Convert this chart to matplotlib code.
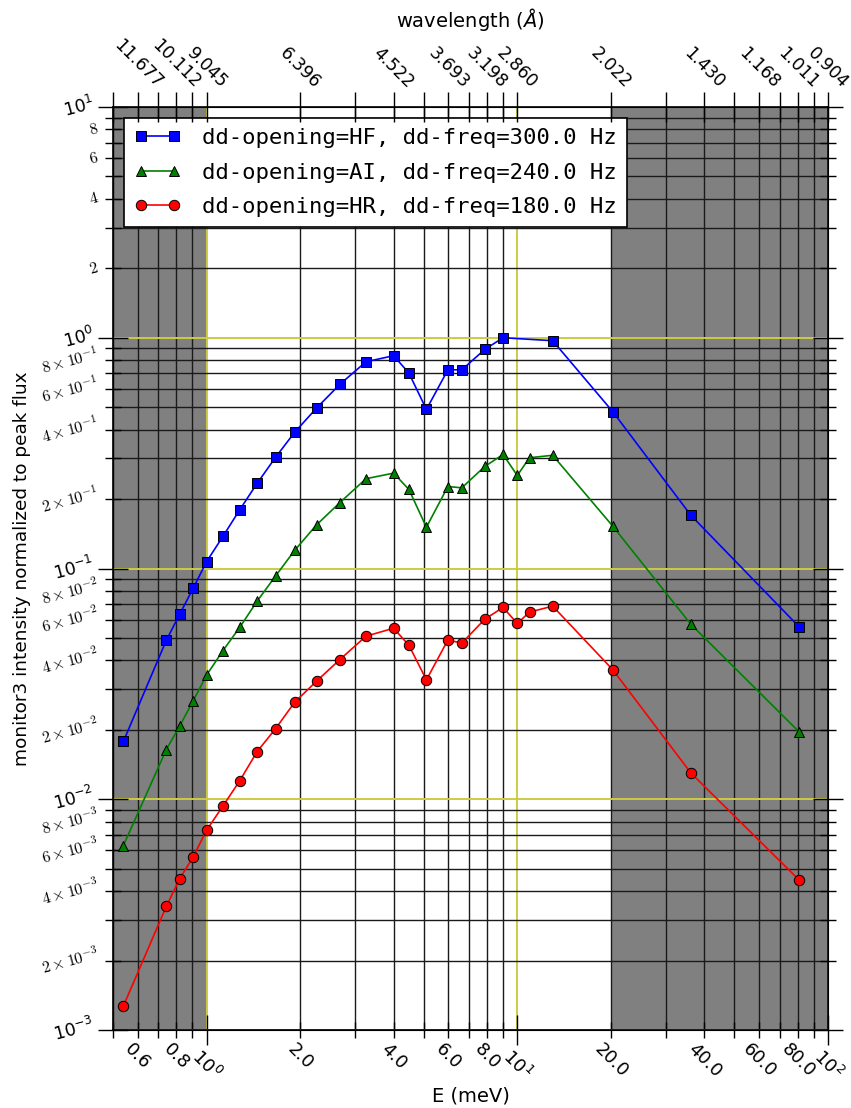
import matplotlib
matplotlib.use('Agg')
import matplotlib.pyplot as plt
import numpy as np
from matplotlib.ticker import FixedLocator, FixedFormatter, LogLocator, NullFormatter, FuncFormatter

# incident energies (meV) of the scan points
energy = [0.54, 0.742, 0.82, 0.906, 1.0, 1.13, 1.28, 1.455, 1.667, 1.92, 2.26, 2.685,
          3.26, 4.0, 4.48, 5.1, 5.98, 6.63, 7.86, 9.0, 10.0, 10.95, 13.0, 20.3, 36.2, 80.7]

# HF setting was not measured at 10.0 and 10.95 meV
energy_hf = [0.54, 0.742, 0.82, 0.906, 1.0, 1.13, 1.28, 1.455, 1.667, 1.92, 2.26, 2.685,
             3.26, 4.0, 4.48, 5.1, 5.98, 6.63, 7.86, 9.0, 13.0, 20.3, 36.2, 80.7]
flux_hf = [0.0178, 0.0488, 0.0634, 0.0822, 0.107, 0.138, 0.180, 0.234, 0.303, 0.389, 0.496, 0.628,
           0.787, 0.836, 0.703, 0.489, 0.726, 0.726, 0.890, 1.0, 0.971, 0.478, 0.170, 0.0559]
flux_ai = [0.0063, 0.0164, 0.0208, 0.0267, 0.0345, 0.0441, 0.0557, 0.0722, 0.0927, 0.1197, 0.1546, 0.193,
           0.245, 0.259, 0.220, 0.151, 0.2266, 0.2237, 0.2768, 0.312, 0.253, 0.302, 0.3095, 0.1525, 0.0573, 0.0196]
flux_hr = [0.00127, 0.00343, 0.00453, 0.00563, 0.00734, 0.00936, 0.01205, 0.0161, 0.0202, 0.0263, 0.0325, 0.0403,
           0.0509, 0.0551, 0.0465, 0.0329, 0.0490, 0.0475, 0.0603, 0.0678, 0.0578, 0.0647, 0.0687, 0.0364, 0.0130, 0.00447]

labels = ['dd-opening=HF, dd-freq=300.0 Hz',
          'dd-opening=AI, dd-freq=240.0 Hz',
          'dd-opening=HR, dd-freq=180.0 Hz']

# wavelength axis on top
wl_energy = [0.6, 0.8, 1, 2, 4, 6, 8, 10, 20, 40, 60, 80, 100]
wl_labels = ['11.677', '10.112', '9.045', '6.396', '4.522', '3.693', '3.198', '2.860',
             '2.022', '1.430', '1.168', '1.011', '0.904']

# energy ranges shaded grey
shaded = [(0.5, 1.0), (20.0, 100.0)]

plt.rcParams['mathtext.fontset'] = 'cm'

fig = plt.figure(figsize=(8.51, 11.08), dpi=100)
ax = fig.add_axes([113/851, 1-1030/1108, 715/851, 923/1108])

for lo, hi in shaded:
    ax.axvspan(lo, hi, color='gray', lw=0, zorder=0)

ax.plot(energy_hf, flux_hf, 'bs-', ms=7.5, mec='k', mew=0.7, lw=1.2, label=labels[0])
ax.plot(energy, flux_ai, '^-', color=(0, 0.5, 0), ms=7.5, mec='k', mew=0.7, lw=1.2, label=labels[1])
ax.plot(energy, flux_hr, 'ro-', ms=7.5, mec='k', mew=0.7, lw=1.2, label=labels[2])

ax.set_xscale('log')
ax.set_yscale('log')
ax.set_xlim(0.5, 100)
ax.set_ylim(1e-3, 10)

# x ticks: decades as 10^n, even multiples printed as floats
ax.xaxis.set_major_locator(LogLocator(base=10, subs=(1.0,)))
ax.xaxis.set_minor_locator(LogLocator(base=10, subs=np.arange(2, 10)))
ax.xaxis.set_major_formatter(FuncFormatter(lambda v, p: r'$10^{%d}$' % round(np.log10(v))))


def even_float(v, p):
    m = v / 10 ** np.floor(np.log10(v) + 1e-9)
    return '%.1f' % v if round(m) % 2 == 0 else ''


ax.xaxis.set_minor_formatter(FuncFormatter(even_float))

# y ticks
ax.yaxis.set_major_locator(FixedLocator([1e-3, 1e-2, 1e-1, 1, 10]))
ax.yaxis.set_minor_locator(LogLocator(base=10, subs=np.arange(2, 10)))
ax.yaxis.set_major_formatter(FuncFormatter(lambda v, p: r'$10^{%d}$' % round(np.log10(v))))


def even_sci(v, p):
    e = int(np.floor(np.log10(v) + 1e-9))
    m = int(round(v / 10 ** e))
    if m % 2:
        return ''
    if e == 0:
        return r'$%d$' % m
    return r'$%d\times10^{%d}$' % (m, e)


ax.yaxis.set_minor_formatter(FuncFormatter(even_sci))

ax.tick_params(which='major', direction='inout', length=22, width=1, top=False, right=True)
ax.tick_params(which='minor', direction='inout', length=12, width=1, top=False, right=True)
ax.tick_params(axis='x', which='both', labelsize=13, labelrotation=-45, pad=1)
ax.tick_params(axis='y', which='major', labelsize=12.5, labelrotation=15, pad=1)
ax.tick_params(axis='y', which='minor', labelsize=11.5, labelrotation=15, pad=3)

for t in ax.yaxis.get_major_ticks() + ax.xaxis.get_major_ticks():
    t.label1.set_math_fontfamily('dejavusans')
for t in ax.yaxis.get_major_ticks() + ax.yaxis.get_minor_ticks():
    t.label1.set_va('center')

ax.grid(which='minor', color='0.1', lw=1.0)
ax.grid(which='major', color='#cccc44', lw=1.4)

for s in ax.spines.values():
    s.set_linewidth(1.2)

ax.set_xlabel('E (meV)', fontsize=14)
ax.xaxis.set_label_coords(0.5, -(1086 - 1030) / 923)
ax.set_ylabel('monitor3 intensity normalized to peak flux', fontsize=13.3)
ax.yaxis.set_label_coords(-(113 - 31) / 715, 0.5)

leg = ax.legend(loc='upper left', numpoints=2, prop={'family': 'DejaVu Sans Mono', 'size': 16},
                fancybox=False, framealpha=1, edgecolor='k', borderaxespad=0.5,
                labelspacing=0.65, borderpad=0.45, handlelength=2.1, handletextpad=0.95)
leg.get_frame().set_linewidth(1.2)

# top axis in wavelength
axt = ax.twiny()
axt.set_xscale('log')
axt.set_xlim(ax.get_xlim())
axt.xaxis.set_major_locator(FixedLocator(wl_energy))
axt.xaxis.set_major_formatter(FixedFormatter(wl_labels))
axt.xaxis.set_minor_locator(LogLocator(base=10, subs=np.arange(2, 10)))
axt.xaxis.set_minor_formatter(NullFormatter())
axt.tick_params(which='both', direction='inout', length=22, width=1, labelsize=12.5,
                labelrotation=-45, pad=0)
axt.set_xlabel(r'wavelength ($\AA$)', fontsize=14)
axt.xaxis.label.set_math_fontfamily('dejavusans')
axt.xaxis.set_label_coords(0.5, (1030 - 27) / 923)

fig.savefig('out.png', dpi=100)
